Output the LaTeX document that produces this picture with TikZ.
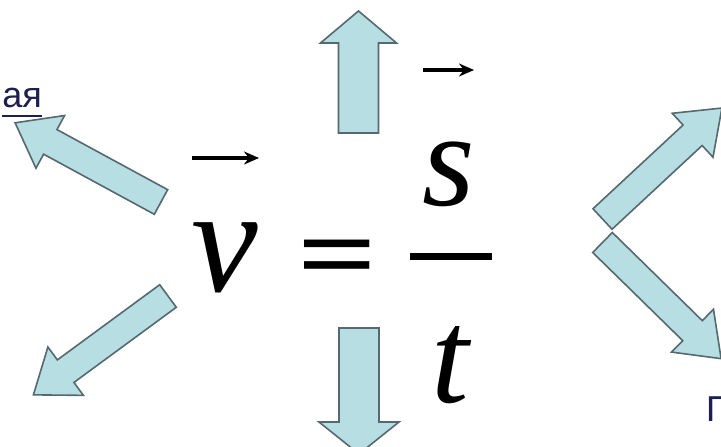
\documentclass[tikz,border=0pt]{standalone}
\usepackage{fontspec}
\setmainfont{Liberation Serif}
\newfontfamily\arialfont{Liberation Sans}
\usetikzlibrary{arrows.meta}
\definecolor{arrowfill}{RGB}{183,222,226}
\definecolor{arrowline}{RGB}{85,105,110}
\definecolor{linkcol}{RGB}{30,30,80}
\tikzset{
  fatarrowstyle/.style={fill=arrowfill, draw=arrowline, line width=1.6pt, line join=miter},
  eqtext/.style={inner sep=0pt, text=black},
  vecarrow/.style={line width=4pt, -{Stealth[length=15pt,width=13pt]}},
  cut/.style={inner sep=0pt, font=\arialfont\fontsize{36}{40}\selectfont, text=linkcol}
}
% #1 tail x, #2 tail y (px, downwards), #3 angle, #4 length, #5 shaft width, #6 head width, #7 head length
\newcommand\fatarrow[7]{%
  \begin{scope}[shift={(#1,-#2)}, rotate=#3]
    \draw[fatarrowstyle] (0,{-#5/2}) -- ({#4-#7},{-#5/2}) -- ({#4-#7},{-#6/2}) -- (#4,0)
      -- ({#4-#7},{#6/2}) -- ({#4-#7},{#5/2}) -- (0,{#5/2}) -- cycle;
  \end{scope}}
\begin{document}
\begin{tikzpicture}[x=1pt,y=1pt]
  \fill[white] (0,0) rectangle (721,-447);
  \clip (0,0) rectangle (721,-447);
  % block arrows
  \fatarrow{358.5}{133}{90}{122}{40}{76}{32}
  \fatarrow{359}{328}{-90}{126}{40}{80}{32}
  \fatarrow{161}{202}{151.5}{166}{28}{60}{40}
  \fatarrow{168}{296}{216.3}{167}{28}{60}{40}
  \fatarrow{602.5}{242.5}{-44.4}{166}{28}{60}{40}
  \fatarrow{602.5}{219}{42.9}{163}{28}{60}{40}
  % clipped words
  \node[cut, anchor=base east] (aya) at (42,-107) {ая};
  \draw[linkcol, line width=1.5pt] ([yshift=-9pt]aya.base west) -- ([yshift=-9pt]aya.base east);
  \node[cut, anchor=north west] (pe) at (706,-397) {П};
  % formula
  \node[eqtext, font=\itshape\fontsize{150}{150}\selectfont] (v) at (225,-258) {v};
  \node[eqtext, font=\bfseries\fontsize{108}{108}\selectfont] (eq) at (337,-265) {\scalebox{1.3}[1]{=}};
  \node[eqtext, font=\itshape\fontsize{135}{135}\selectfont] (s) at (449,-174) {s};
  \node[eqtext, font=\itshape\fontsize{135}{135}\selectfont] (t) at (450,-365) {t};
  \coordinate (fracL) at (410,-256);
  \coordinate (fracR) at (492,-256);
  \draw[line width=7pt] (fracL) -- (fracR);
  \coordinate (va) at (192,-158);
  \coordinate (vb) at (259,-158);
  \draw[vecarrow] (va) -- (vb);
  \coordinate (sa) at (423,-70);
  \coordinate (sb) at (474,-70);
  \draw[vecarrow] (sa) -- (sb);
\end{tikzpicture}
\end{document}
